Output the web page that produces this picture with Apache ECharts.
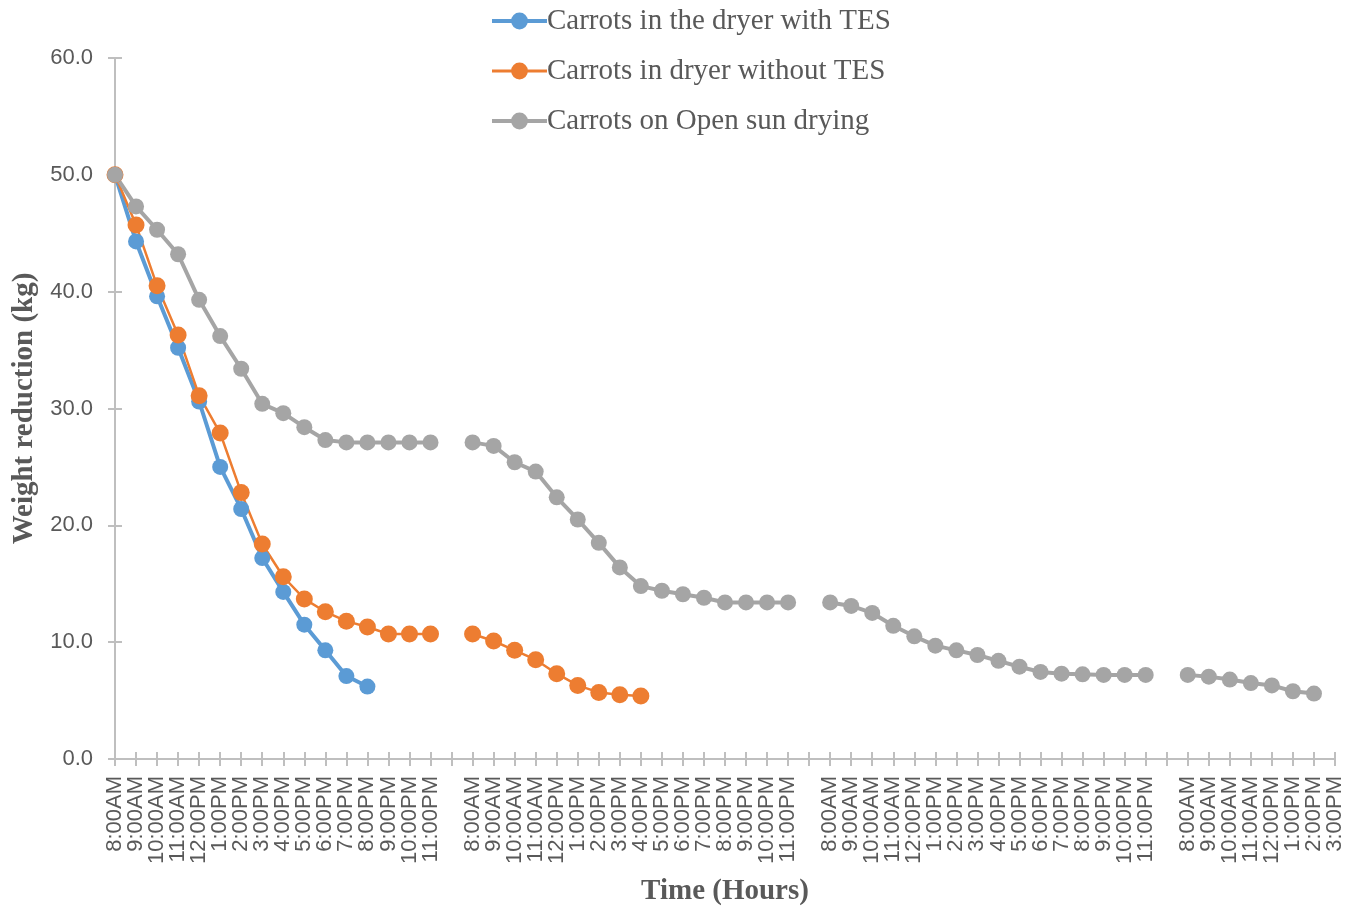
<!DOCTYPE html>
<html>
<head>
<meta charset="utf-8">
<script src="https://cdn.jsdelivr.net/npm/echarts@6/dist/echarts.min.js"></script>
<style>
html,body{margin:0;padding:0;background:#fff;}
#chart{width:1348px;height:911px;}
</style>
</head>
<body>
<div id="chart"></div>
<script>
// Category labels (59 slots: 3 full days, an empty slot between days, then a partial day)
const categories = [
  '8:00AM','9:00AM','10:00AM','11:00AM','12:00PM','1:00PM','2:00PM','3:00PM',
  '4:00PM','5:00PM','6:00PM','7:00PM','8:00PM','9:00PM','10:00PM','11:00PM',
  '',
  '8:00AM','9:00AM','10:00AM','11:00AM','12:00PM','1:00PM','2:00PM','3:00PM',
  '4:00PM','5:00PM','6:00PM','7:00PM','8:00PM','9:00PM','10:00PM','11:00PM',
  '',
  '8:00AM','9:00AM','10:00AM','11:00AM','12:00PM','1:00PM','2:00PM','3:00PM',
  '4:00PM','5:00PM','6:00PM','7:00PM','8:00PM','9:00PM','10:00PM','11:00PM',
  '',
  '8:00AM','9:00AM','10:00AM','11:00AM','12:00PM','1:00PM','2:00PM','3:00PM'
];

const seriesNames = [
  'Carrots in the dryer with TES',
  'Carrots in dryer without TES',
  'Carrots on Open sun drying'
];

const withTES = [50.0, 44.3, 39.6, 35.2, 30.6, 25.0, 21.4, 17.2, 14.3, 11.5, 9.3, 7.1, 6.2];

const withoutTES = [50.0, 45.7, 40.5, 36.3, 31.1, 27.9, 22.8, 18.4, 15.6, 13.7, 12.6, 11.8, 11.3, 10.7, 10.7, 10.7,
  null,
  10.7, 10.1, 9.3, 8.5, 7.3, 6.3, 5.7, 5.5, 5.4];

const openSun = [50.0, 47.3, 45.3, 43.2, 39.3, 36.2, 33.4, 30.4, 29.6, 28.4, 27.3, 27.1, 27.1, 27.1, 27.1, 27.1,
  null,
  27.1, 26.8, 25.4, 24.6, 22.4, 20.5, 18.5, 16.4, 14.8, 14.4, 14.1, 13.8, 13.4, 13.4, 13.4, 13.4,
  null,
  13.4, 13.1, 12.5, 11.4, 10.5, 9.7, 9.3, 8.9, 8.4, 7.9, 7.45, 7.3, 7.25, 7.2, 7.2, 7.2,
  null,
  7.2, 7.05, 6.8, 6.5, 6.3, 5.8, 5.6];

const colors = ['#5B9BD5', '#ED7D31', '#A5A5A5'];
const axisColor = '#BFBFBF';
const textColor = '#595959';
const tickFont = 'Liberation Sans';
const titleFont = 'Liberation Serif';

const chart = echarts.init(document.getElementById('chart'), null, {renderer: 'canvas'});

function mkSeries(name, data, color, width, size) {
  return {
    name: name,
    type: 'line',
    data: data,
    xAxisIndex: 0,
    yAxisIndex: 0,
    connectNulls: false,
    symbol: 'circle',
    symbolSize: size,
    showSymbol: true,
    lineStyle: {color: color, width: width},
    itemStyle: {color: color, borderWidth: 0},
    emphasis: {disabled: true}
  };
}

const legendWidths = [4, 3, 4];

const option = {
  animation: false,
  backgroundColor: '#ffffff',
  grid: {left: 115, right: 13, top: 58, bottom: 150, containLabel: false},
  legend: {
    orient: 'vertical',
    left: 490,
    top: 6,
    padding: 0,
    itemWidth: 55,
    itemHeight: 21,
    itemGap: 20,
    textStyle: {fontFamily: titleFont, fontSize: 29, color: textColor, lineHeight: 30, padding: [0,0,0,-5]},
    data: seriesNames.map(function (n, i) {
      return {name: n, lineStyle: {width: legendWidths[i], color: colors[i]}, itemStyle: {color: colors[i]}};
    })
  },
  xAxis: [{
    type: 'category',
    data: categories,
    boundaryGap: false,
    position: 'bottom',
    name: 'Time (Hours)',
    nameLocation: 'middle',
    nameGap: 118,
    nameTextStyle: {fontFamily: titleFont, fontWeight: 'bold', fontSize: 29, color: textColor},
    axisLine: {show: true, lineStyle: {color: axisColor, width: 2}},
    axisTick: {show: true, inside: false, length: 7, interval: 0, lineStyle: {color: axisColor, width: 2}},
    axisLabel: {show: true, interval: 0, rotate: 90, margin: 17, fontFamily: tickFont, fontSize: 22, color: textColor},
    splitLine: {show: false}
  }, {
    type: 'category',
    data: categories,
    boundaryGap: false,
    position: 'bottom',
    axisLine: {show: false},
    axisTick: {show: true, inside: true, length: 7, interval: 0, lineStyle: {color: axisColor, width: 2}},
    axisLabel: {show: false},
    splitLine: {show: false}
  }],
  yAxis: [{
    type: 'value',
    min: 0,
    max: 60,
    interval: 10,
    position: 'left',
    name: 'Weight reduction (kg)',
    nameLocation: 'middle',
    nameRotate: 90,
    nameGap: 69,
    nameTextStyle: {fontFamily: titleFont, fontWeight: 'bold', fontSize: 29, color: textColor},
    axisLine: {show: true, lineStyle: {color: axisColor, width: 2}},
    axisTick: {show: true, inside: false, length: 7, lineStyle: {color: axisColor, width: 2}},
    axisLabel: {margin: 22, fontFamily: tickFont, fontSize: 22, color: textColor,
      formatter: function (v) { return v.toFixed(1); }},
    splitLine: {show: false}
  }, {
    type: 'value',
    min: 0,
    max: 60,
    interval: 10,
    position: 'left',
    axisLine: {show: false},
    axisTick: {show: true, inside: true, length: 7, lineStyle: {color: axisColor, width: 2}},
    axisLabel: {show: false},
    splitLine: {show: false}
  }],
  series: [
    mkSeries(seriesNames[0], withTES, colors[0], 4, 16),
    mkSeries(seriesNames[1], withoutTES, colors[1], 2.5, 17),
    mkSeries(seriesNames[2], openSun, colors[2], 4, 16)
  ]
};

chart.setOption(option);
</script>
</body>
</html>
